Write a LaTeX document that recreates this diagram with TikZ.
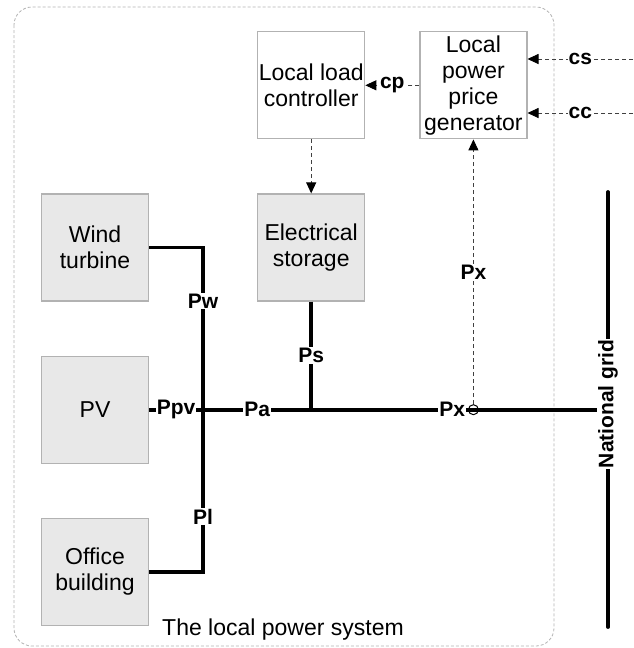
\documentclass[tikz,border=0pt]{standalone}
\usepackage{fontspec}
\setmainfont{Liberation Sans}
\usetikzlibrary{arrows.meta, positioning, calc}

\begin{document}
\begin{tikzpicture}[
    x=1pt, y=1pt,
    node distance=54pt,
    unit/.style={draw=gray!60, line width=1.2pt, fill=gray!18, minimum width=107pt,
        minimum height=107pt, align=center, inner sep=1pt, font=\fontsize{23}{26}\selectfont},
    ctrl/.style={unit, fill=white},
    power/.style={line width=3.8pt},
    signal/.style={-{Triangle[length=11pt, width=10pt, color=black]}, dash pattern=on 4pt off 3pt,
        line width=0.9pt, draw=black!75},
    lbl/.style={fill=white, inner sep=1pt, font=\fontsize{21}{24}\selectfont\bfseries},
    tap/.style={circle, draw, line width=1pt, fill=white, minimum size=10pt, inner sep=0pt},
    frame/.style={draw=gray!60, dash pattern=on 3pt off 2pt, line width=0.8pt, rounded corners=18pt}
]
\useasboundingbox (0,0) rectangle (633,-648);
\draw[frame] (14,-7) rectangle (554,-646);

% sources and loads
\node[unit] (wind) at (95,-247.5) {Wind\\turbine};
\node[unit, below=of wind] (pv) {PV};
\node[unit, below=of pv] (office) {Office\\building};
\node[unit, right=108pt of wind] (storage) {Electrical\\storage};
\node[ctrl, above=of storage] (controller) {Local load\\controller};
\node[ctrl, right=of controller] (generator) {Local\\power\\price\\generator};

\coordinate (hub) at ([xshift=54pt]pv.east);
\coordinate (js) at (storage.south |- hub);
\coordinate (gtop) at (608,-192);
\coordinate (gbot) at (608,-627);
\coordinate (gj) at (gtop |- hub);
\coordinate (csin) at (633,-59);
\coordinate (ccin) at (633,-113);
\node[tap] (tap) at (generator.south |- hub) {};

% power flows
\draw[power] (wind.east) -| node[lbl, pos=0.665] {Pw} (hub);
\draw[power] (office.east) -| node[lbl, pos=0.67] {Pl} (hub);
\draw[power] (pv.east) -- node[lbl] {Ppv} (hub);
\draw[power] (hub) -- node[lbl] {Pa} (js) -- node[lbl, pos=0.87] {Px} (tap.center) -- (gj);
\draw[power] (storage.south) -- node[lbl] {Ps} (js);
\draw[power, line cap=round] (gtop) -- node[lbl, rotate=90, pos=0.487] {National grid} (gbot);

% price and control signals
\draw[signal] (tap.north) -- node[lbl] {Px} (generator.south);
\draw[signal] (controller.south) -- (storage.north);
\draw[signal] (generator.west) -- node[lbl] {cp} (controller.east);
\draw[signal] (csin) -- node[lbl] {cs} (csin -| generator.east);
\draw[signal] (ccin) -- node[lbl] {cc} (ccin -| generator.east);

\node[font=\fontsize{23}{26}\selectfont] (caption) at (283,-630) {The local power system};
\end{tikzpicture}
\end{document}
